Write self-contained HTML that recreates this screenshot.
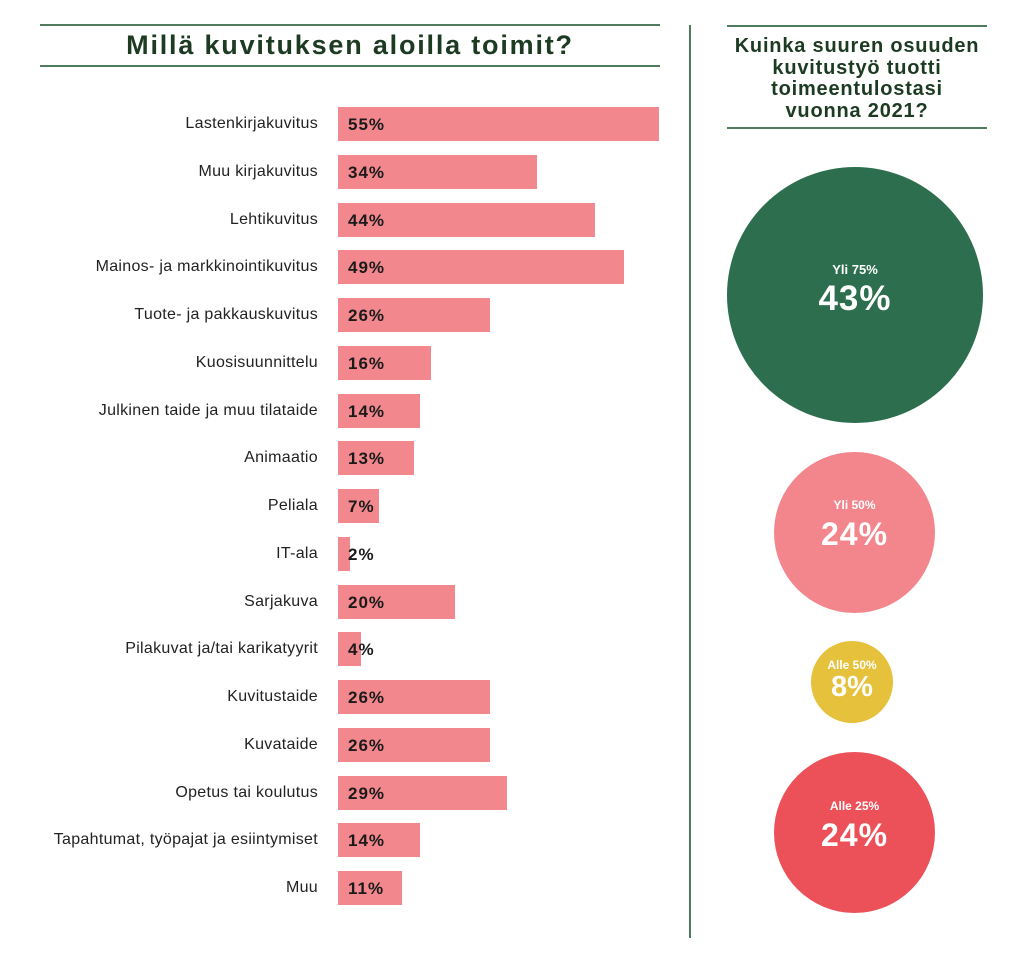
<!DOCTYPE html>
<html><head><meta charset="utf-8"><style>
body{margin:0;width:1024px;height:963px;background:#fff;position:relative;overflow:hidden;font-family:"Liberation Sans",sans-serif}
.a{position:absolute}
.ln{position:absolute;height:2px;background:#4f7a5c}
.lab{position:absolute;right:706px;font-size:16px;letter-spacing:0.3px;color:#222;height:34px;line-height:34px;white-space:nowrap}
.bar{position:absolute;left:338px;height:34px;background:#f2878d}
.pct{position:absolute;left:348px;height:34px;line-height:35px;font-size:17px;letter-spacing:1px;font-weight:bold;color:#1a1a1a}
.c{position:absolute;border-radius:50%;color:#fff;text-align:center;font-weight:bold}
</style></head><body>
<div class="ln" style="left:40px;top:24px;width:620px"></div>
<div class="ln" style="left:40px;top:65px;width:620px"></div>
<div class="a" style="left:40px;width:620px;top:30px;text-align:center;font-size:27px;letter-spacing:1.8px;font-weight:bold;color:#1d3b22">Millä kuvituksen aloilla toimit?</div>
<div class="a" style="left:689px;top:25px;width:2px;height:913px;background:#4f7a5c"></div>
<div class="ln" style="left:727px;top:25px;width:260px"></div>
<div class="ln" style="left:727px;top:127px;width:260px"></div>
<div class="a" style="left:710px;width:294px;top:36px;text-align:center;font-size:20px;letter-spacing:0.8px;line-height:21.5px;font-weight:bold;color:#1d3b22">Kuinka suuren osuuden<br>kuvitustyö tuotti<br>toimeentulostasi<br>vuonna 2021?</div>
<div id="bars"></div>
<div class="c" style="left:727px;top:167px;width:256px;height:256px;background:#2d6e4e"><div style="margin-top:95px;font-size:13px">Yli 75%</div><div style="font-size:35px;margin-top:2px;letter-spacing:1px">43%</div></div>
<div class="c" style="left:774px;top:452px;width:161px;height:161px;background:#f2868c"><div style="margin-top:46px;font-size:12px">Yli 50%</div><div style="font-size:32px;margin-top:4px;letter-spacing:1px">24%</div></div>
<div class="c" style="left:811px;top:641px;width:82px;height:82px;background:#e6c13c"><div style="margin-top:17px;font-size:12px">Alle 50%</div><div style="font-size:29px;margin-top:-1px">8%</div></div>
<div class="c" style="left:774px;top:752px;width:161px;height:161px;background:#ec5159"><div style="margin-top:47px;font-size:12px">Alle 25%</div><div style="font-size:32px;margin-top:4px;letter-spacing:1px">24%</div></div>
<script>
var d=[["Lastenkirjakuvitus",55],["Muu kirjakuvitus",34],["Lehtikuvitus",44],["Mainos- ja markkinointikuvitus",49],["Tuote- ja pakkauskuvitus",26],["Kuosisuunnittelu",16],["Julkinen taide ja muu tilataide",14],["Animaatio",13],["Peliala",7],["IT-ala",2],["Sarjakuva",20],["Pilakuvat ja/tai karikatyyrit",4],["Kuvitustaide",26],["Kuvataide",26],["Opetus tai koulutus",29],["Tapahtumat, työpajat ja esiintymiset",14],["Muu",11]];
var h="";d.forEach(function(r,i){var t=107+i*47.75;h+='<div class="lab" style="top:'+t+'px">'+r[0]+'</div><div class="bar" style="top:'+t+'px;width:'+Math.round(r[1]*5.84)+'px"></div><div class="pct" style="top:'+t+'px">'+r[1]+'%</div>';});
document.getElementById("bars").innerHTML=h;
</script>
</body></html>
